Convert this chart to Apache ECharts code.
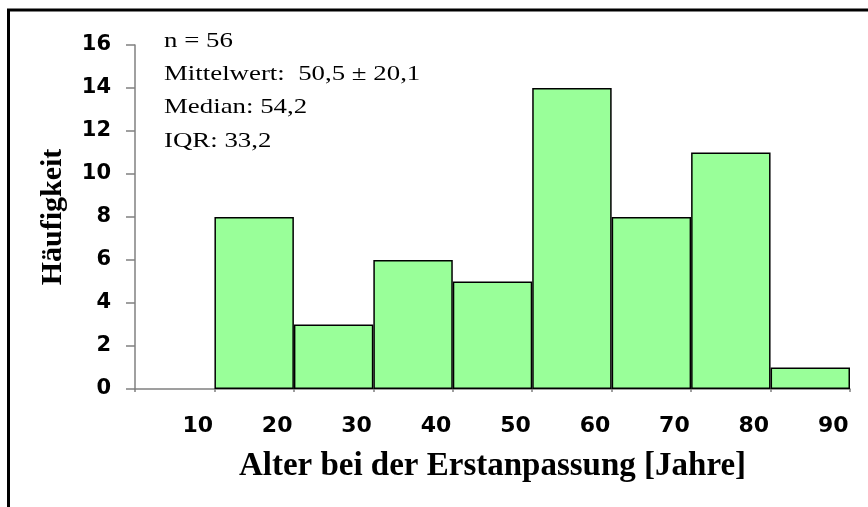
<!DOCTYPE html>
<html><head><meta charset="utf-8">
<script src="https://cdn.jsdelivr.net/npm/echarts@6/dist/echarts.min.js"></script>
<style>html,body{margin:0;padding:0;background:#fff}#c{width:868px;height:507px}</style>
</head><body><div id="c"></div>
<script>
const categories = ['10','20','30','40','50','60','70','80','90'];
const frequencies = [0, 8, 3, 6, 5, 14, 8, 11, 1];
const yTicks = [0, 16, 2];
const statLines = ['n = 56', 'Mittelwert:  50,5 \u00b1 20,1', 'Median: 54,2', 'IQR: 33,2'];
const xTitle = 'Alter bei der Erstanpassung [Jahre]';
const yTitle = 'H\u00e4ufigkeit';

const chart = echarts.init(document.getElementById('c'), null, {renderer: 'canvas'});
const gray = '#808080';
const serif = '"Liberation Serif", "Times New Roman", serif';
const sans = '"DejaVu Sans", Arial, sans-serif';
chart.setOption({
  animation: false,
  backgroundColor: '#fff',
  grid: {left: 135, right: 18, top: 45, bottom: 118, containLabel: false},
  xAxis: {
    type: 'category', data: categories, boundaryGap: true,
    axisLine: {lineStyle: {color: gray, width: 1.5}},
    axisTick: {show: true, length: 3, lineStyle: {color: gray, width: 1.5}},
    axisLabel: {color: '#000', fontFamily: sans, fontWeight: 'bold', fontSize: 22,
      margin: 26, padding: [0, 0, 0, 46]},
    name: xTitle, nameLocation: 'middle', nameGap: 61,
    nameTextStyle: {color: '#000', fontFamily: serif, fontWeight: 'bold', fontSize: 33}
  },
  yAxis: {
    type: 'value', min: yTicks[0], max: yTicks[1], interval: yTicks[2],
    splitLine: {show: false},
    axisLine: {show: true, lineStyle: {color: gray, width: 1.5}},
    axisTick: {show: true, length: 9, lineStyle: {color: gray, width: 1.5}},
    axisLabel: {color: '#000', fontFamily: sans, fontWeight: 'bold', fontSize: 21, margin: 24},
    name: yTitle, nameLocation: 'middle', nameGap: 67, nameRotate: 90,
    nameTextStyle: {color: '#000', fontFamily: serif, fontWeight: 'bold', fontSize: 30}
  },
  series: [{
    type: 'bar', barWidth: '100%', barGap: '0%', barCategoryGap: '0%',
    data: frequencies.map(v => v === 0 ? '-' : v),
    itemStyle: {color: '#99FF99', borderColor: '#000', borderWidth: 1.5}
  }],
  graphic: [
    {type: 'rect', shape: {x: 8.5, y: 10, width: 900, height: 600}, style: {fill: 'none', stroke: '#000', lineWidth: 3}, silent: true, z: 100},
    ...statLines.map((t, i) => ({
      type: 'text', x: 164, y: 30 + i * 33.3, scaleX: 1.22, scaleY: 1,
      style: {text: t, x: 0, y: 0, fill: '#000', font: '22px ' + serif}
    }))
  ]
});
</script></body></html>
